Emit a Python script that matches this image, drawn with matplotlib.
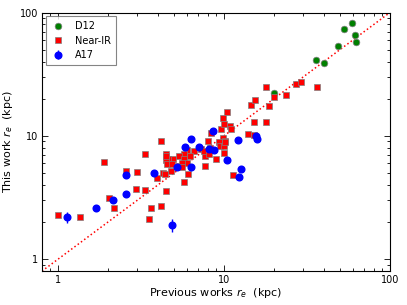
import numpy as np
import matplotlib
matplotlib.use('Agg')
import matplotlib.pyplot as plt

# D12 sample
d12_prev = [58.8, 52.6, 61.5, 62.8, 48.9, 35.8, 39.9, 19.9]
d12_this = [81.7, 73.1, 66.1, 57.4, 53.2, 41.2, 39.2, 22.1]

# Near-IR sample
nir_prev = [1.0, 1.36, 1.88, 2.04, 2.18, 2.58, 3.01, 2.94, 3.36, 3.33,
            3.65, 3.53, 4.15, 3.95, 4.29, 4.39, 4.45, 4.77, 5.72, 6.04,
            7.65, 4.15, 6.02, 6.63, 5.72, 6.24, 5.33, 4.50, 4.93, 4.62,
            4.45, 4.54, 4.86, 5.72, 6.02, 5.36, 8.35, 8.0, 8.2, 8.0,
            7.69, 10.0, 8.91, 7.27, 9.9, 10.2, 9.29, 9.5, 10.0, 13.9,
            15.2, 9.6, 10.8, 11.1, 10.0, 9.9, 10.4, 15.2, 17.8, 14.6,
            18.8, 15.4, 18.0, 20.1, 23.5, 27.0, 29.0, 36.5, 11.3, 5.62,
            5.58, 7.6, 4.5, 10.1, 8.1]
nir_this = [2.27, 2.19, 6.11, 3.12, 2.62, 5.17, 5.07, 3.71, 7.13, 3.64,
            2.62, 2.13, 2.70, 4.59, 5.03, 4.91, 3.60, 5.17, 4.21, 4.91,
            5.70, 9.15, 7.69, 7.55, 7.13, 6.83, 6.91, 7.13, 6.53, 6.50,
            6.35, 5.92, 5.92, 6.53, 6.06, 5.70, 10.6, 9.04, 7.93, 7.23,
            6.91, 7.23, 6.50, 7.83, 9.6, 9.15, 8.97, 8.33, 8.3, 10.3,
            10.1, 11.3, 12.0, 11.4, 12.5, 13.9, 15.7, 13.0, 13.0, 17.7,
            17.6, 19.5, 24.8, 20.8, 21.5, 26.3, 27.2, 24.8, 4.80, 6.06,
            5.63, 7.6, 6.9, 8.9, 7.1]

# A17 sample
a17_prev = [1.14, 1.69, 2.15, 2.58, 2.58, 3.79, 4.89, 5.19, 6.36, 6.36,
            5.82, 7.04, 8.17, 8.59, 12.1, 15.7, 15.8, 8.71, 10.5, 12.7, 12.4]
a17_this = [2.19, 2.59, 3.02, 4.82, 3.38, 4.98, 1.89, 5.63, 5.63, 9.44,
            8.08, 8.13, 7.88, 11.0, 9.27, 9.98, 9.38, 7.69, 6.35, 5.36, 4.62]
a17_err = [0.21, 0.15, 0.15, 0.2, 0.13, 0.2, 0.22, 0.2, 0.2, 0.35,
           0.3, 0.3, 0.3, 0.4, 0.35, 0.35, 0.35, 0.3, 0.25, 0.2, 0.18]

plt.rcParams['font.size'] = 7
plt.rcParams['xtick.direction'] = 'in'
plt.rcParams['ytick.direction'] = 'in'
plt.rcParams['xtick.top'] = True
plt.rcParams['ytick.right'] = True

fig = plt.figure(figsize=(4.07, 3.05), dpi=100)
ax = fig.add_axes([0.103, 0.111, 0.855, 0.848])

ax.plot([0.8, 100], [0.8, 100], 'r:', lw=1.1)
ax.plot(d12_prev, d12_this, 'o', color='g', ms=4.8, mec='0.5', mew=0.5,
        label='D12')
ax.plot(nir_prev, nir_this, 's', color='r', ms=4.8, mec='0.5', mew=0.5,
        label='Near-IR')
ax.errorbar(a17_prev, a17_this, yerr=a17_err, fmt='o', color='b', ms=4.8,
            mec='b', elinewidth=1, capsize=0, label='A17')

ax.set_xscale('log')
ax.set_yscale('log')
ax.set_xlim(0.8, 100)
ax.set_ylim(0.8, 100)
ax.xaxis.set_major_formatter(matplotlib.ticker.FormatStrFormatter('%g'))
ax.yaxis.set_major_formatter(matplotlib.ticker.FormatStrFormatter('%g'))
ax.tick_params(which='major', length=4, width=0.6, pad=2.5)
ax.tick_params(which='minor', length=2, width=0.6)
for s in ax.spines.values():
    s.set_linewidth(0.8)

ax.set_xlabel('Previous works $r_e$  (kpc)', fontsize=8, labelpad=1)
ax.set_ylabel('This work $r_e$  (kpc)', fontsize=8, labelpad=4)

leg = ax.legend(loc='upper left', numpoints=1, fancybox=False, fontsize=7,
                borderpad=0.5, labelspacing=0.45, handletextpad=1.0,
                handlelength=1.5, borderaxespad=0.4)
leg.get_frame().set_edgecolor('0.4')
leg.get_frame().set_linewidth(0.8)

fig.savefig('out.png', dpi=100)
